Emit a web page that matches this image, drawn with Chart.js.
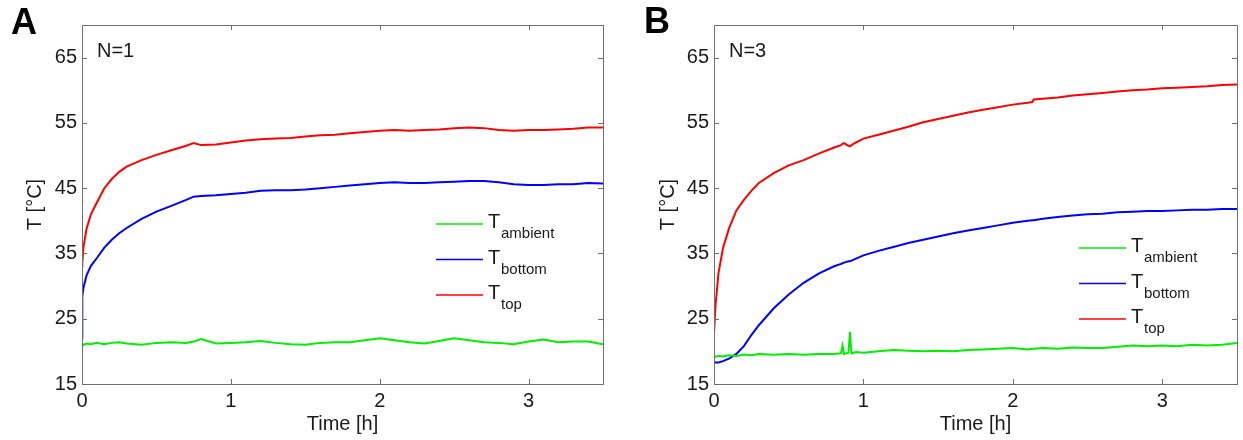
<!DOCTYPE html>
<html>
<head>
<meta charset="utf-8">
<script src="https://cdn.jsdelivr.net/npm/chart.js@4"></script>
<style>
body { margin: 0; background: #fff; }
#wrap { position: relative; width: 1243px; height: 440px; }
canvas { position: absolute; top: 0; }
</style>
</head>
<body>
<div id="wrap">
<canvas id="chartA" width="621" height="440" style="left:0"></canvas>
<canvas id="chartB" width="622" height="440" style="left:621px"></canvas>
</div>
<script>
// tick labels
const xTicks = [0, 1, 2, 3];
const yTicks = [15, 25, 35, 45, 55, 65];
const legendNames = ['ambient', 'bottom', 'top'];

// panel A (N=1), time in hours
const timeA = [0, 0.002, 0.01, 0.03, 0.06, 0.1, 0.15, 0.2, 0.25, 0.3, 0.4, 0.5, 0.6, 0.7, 0.75, 0.8, 0.9,
    1.0, 1.1, 1.2, 1.3, 1.4, 1.5, 1.6, 1.7, 1.8, 1.9, 2.0, 2.1, 2.2, 2.3, 2.4, 2.5, 2.6, 2.7, 2.8, 2.9,
    3.0, 3.1, 3.2, 3.3, 3.4, 3.5];
const ambientA = [21.3, 21.2, 21.0, 21.2, 21.1, 21.3, 21.1, 21.3, 21.4, 21.2, 21.0, 21.3, 21.4, 21.3, 21.5, 21.9, 21.2,
    21.3, 21.4, 21.6, 21.3, 21.1, 21.0, 21.3, 21.4, 21.4, 21.7, 22.0, 21.7, 21.4, 21.2, 21.6, 22.0, 21.7, 21.4, 21.3, 21.1,
    21.5, 21.8, 21.4, 21.5, 21.5, 21.1];
const bottomA = [22.0, 28.4, 29.8, 31.6, 33.1, 34.3, 35.9, 37.1, 38.1, 38.9, 40.3, 41.4, 42.3, 43.2, 43.7, 43.8, 43.9,
    44.1, 44.3, 44.6, 44.7, 44.7, 44.8, 45.0, 45.2, 45.4, 45.6, 45.8, 45.9, 45.8, 45.8, 45.9, 46.0, 46.1, 46.1, 45.9, 45.6,
    45.5, 45.5, 45.6, 45.6, 45.8, 45.7];
const topA = [33.0, 33.6, 36.0, 38.7, 41.0, 42.8, 45.0, 46.4, 47.5, 48.3, 49.3, 50.1, 50.8, 51.5, 51.9, 51.6, 51.7,
    52.0, 52.3, 52.5, 52.6, 52.7, 52.9, 53.1, 53.2, 53.4, 53.6, 53.8, 53.9, 53.8, 53.9, 54.0, 54.2, 54.3, 54.2, 53.9, 53.8,
    53.9, 53.9, 54.0, 54.1, 54.3, 54.3];

// panel B (N=3)
const timeB = [0, 0.01, 0.03, 0.06, 0.1, 0.15, 0.2, 0.25, 0.3, 0.4, 0.5, 0.6, 0.7, 0.8, 0.85, 0.86, 0.87, 0.9, 0.91, 0.92, 0.95,
    1.0, 1.1, 1.2, 1.3, 1.4, 1.5, 1.6, 1.7, 1.8, 1.9, 2.0, 2.1, 2.13, 2.14,
    2.2, 2.3, 2.4, 2.5, 2.6, 2.7, 2.8, 2.9, 3.0, 3.1, 3.2, 3.3, 3.4, 3.5];
const ambientB = [19.0, 19.2, 19.3, 19.2, 19.4, 19.3, 19.5, 19.4, 19.6, 19.5, 19.6, 19.5, 19.6, 19.6, 19.7, 20.9, 19.6, 19.8, 23.0, 19.7, 19.9,
    19.8, 20.0, 20.2, 20.1, 20.0, 20.1, 20.0, 20.2, 20.3, 20.4, 20.5, 20.3, 20.4, 20.4,
    20.5, 20.4, 20.6, 20.5, 20.5, 20.7, 20.9, 20.8, 20.9, 20.8, 21.0, 20.9, 21.0, 21.3];
const bottomB = [18.4, 18.3, 18.3, 18.5, 18.9, 19.6, 20.8, 22.5, 24.0, 26.6, 28.7, 30.5, 31.9, 33.0, 33.4, 33.5, 33.6, 33.8, 33.8, 33.9, 34.2,
    34.7, 35.4, 36.0, 36.6, 37.1, 37.6, 38.1, 38.5, 38.9, 39.3, 39.7, 40.0, 40.1, 40.1,
    40.3, 40.6, 40.8, 41.0, 41.1, 41.3, 41.4, 41.5, 41.5, 41.6, 41.7, 41.7, 41.8, 41.8];
const topB = [22.8, 27.0, 32.0, 35.8, 38.8, 41.6, 43.2, 44.6, 45.8, 47.3, 48.5, 49.3, 50.3, 51.2, 51.6, 51.8, 51.9, 51.5, 51.4, 51.6, 52.0,
    52.6, 53.2, 53.8, 54.4, 55.1, 55.6, 56.1, 56.6, 57.0, 57.4, 57.8, 58.1, 58.2, 58.6,
    58.7, 58.9, 59.2, 59.4, 59.6, 59.8, 60.0, 60.1, 60.3, 60.4, 60.5, 60.6, 60.8, 60.9];

const FONT = '"Liberation Sans", Arial, sans-serif';
const TEXT = '#1a1a1a';
Chart.defaults.font.family = FONT;
Chart.defaults.font.size = 20;
Chart.defaults.color = TEXT;

function pts(times, values) {
    return times.map((t, i) => ({ x: t, y: values[i] }));
}

// frame, inward ticks, panel letter, N label and legend
const panelDecor = {
    id: 'panelDecor',
    afterDraw(chart, args, o) {
        const { ctx, chartArea: a, scales } = chart;
        ctx.save();
        ctx.strokeStyle = '#707070';
        ctx.lineWidth = 1;
        ctx.strokeRect(a.left + 0.5, a.top + 0.5, a.right - a.left, a.bottom - a.top);
        ctx.beginPath();
        scales.x.ticks.forEach(t => {
            const px = Math.round(scales.x.getPixelForValue(t.value)) + 0.5;
            ctx.moveTo(px, a.bottom); ctx.lineTo(px, a.bottom - 5);
            ctx.moveTo(px, a.top); ctx.lineTo(px, a.top + 5);
        });
        scales.y.ticks.forEach(t => {
            const py = Math.round(scales.y.getPixelForValue(t.value)) + 0.5;
            ctx.moveTo(a.left, py); ctx.lineTo(a.left + 5, py);
            ctx.moveTo(a.right, py); ctx.lineTo(a.right - 5, py);
        });
        ctx.stroke();

        ctx.fillStyle = '#000';
        ctx.textBaseline = 'alphabetic';
        ctx.font = 'bold 36px ' + FONT;
        ctx.fillText(o.letter, o.letterX, o.letterY);

        ctx.fillStyle = TEXT;
        ctx.font = '20px ' + FONT;
        ctx.fillText(o.nLabel, a.left + 15, a.top + 32);

        chart.data.datasets.forEach((ds, i) => {
            const y = a.top + o.legendTop + i * 35.5;
            const x = a.right - o.legendRight;
            ctx.strokeStyle = ds.borderColor;
            ctx.lineWidth = 1.5;
            ctx.beginPath();
            ctx.moveTo(x, y); ctx.lineTo(x + 47, y);
            ctx.stroke();
            ctx.fillStyle = TEXT;
            ctx.font = '20px ' + FONT;
            ctx.fillText('T', x + 52, y + 4);
            ctx.font = '15px ' + FONT;
            ctx.fillText(legendNames[i], x + 65, y + 14);
        });
        ctx.restore();
    }
};

function makeChart(id, times, amb, bot, top, decor, padLeft, padRight, yWidth) {
    return new Chart(document.getElementById(id), {
        type: 'line',
        data: {
            datasets: [
                { label: 'T ambient', data: pts(times, amb), borderColor: '#00ee00' },
                { label: 'T bottom', data: pts(times, bot), borderColor: '#0000ff' },
                { label: 'T top', data: pts(times, top), borderColor: '#ff0000' }
            ]
        },
        options: {
            responsive: false,
            animation: false,
            layout: { padding: { left: padLeft, right: padRight, top: 25, bottom: 0 } },
            elements: {
                point: { radius: 0 },
                line: { borderWidth: 2, tension: 0 }
            },
            scales: {
                x: {
                    type: 'linear',
                    min: 0,
                    max: 3.5,
                    afterBuildTicks: s => { s.ticks = xTicks.map(v => ({ value: v })); },
                    afterFit: s => { s.height = 56; },
                    grid: { display: false, drawTicks: false },
                    border: { display: false },
                    ticks: { padding: 5, color: TEXT, font: { size: 20 } },
                    title: { display: true, text: 'Time [h]', padding: { top: 0, bottom: 4 }, font: { size: 20 } }
                },
                y: {
                    type: 'linear',
                    min: 15,
                    max: 70,
                    afterBuildTicks: s => { s.ticks = yTicks.map(v => ({ value: v })); },
                    afterFit: s => { s.width = yWidth; },
                    grid: { display: false, drawTicks: false },
                    border: { display: false },
                    ticks: { padding: 5, color: TEXT, font: { size: 20 } },
                    title: { display: true, text: 'T [°C]', padding: 0, font: { size: 20 } }
                }
            },
            plugins: {
                legend: { display: false },
                tooltip: { enabled: false },
                panelDecor: decor
            }
        },
        plugins: [panelDecor]
    });
}

makeChart('chartA', timeA, ambientA, bottomA, topA,
    { letter: 'A', letterX: 11, letterY: 34, nLabel: 'N=1', legendTop: 199, legendRight: 167 },
    23, 18, 59);
makeChart('chartB', timeB, ambientB, bottomB, topB,
    { letter: 'B', letterX: 23, letterY: 33, nLabel: 'N=3', legendTop: 223, legendRight: 158 },
    35, 6, 58);
</script>
</body>
</html>
